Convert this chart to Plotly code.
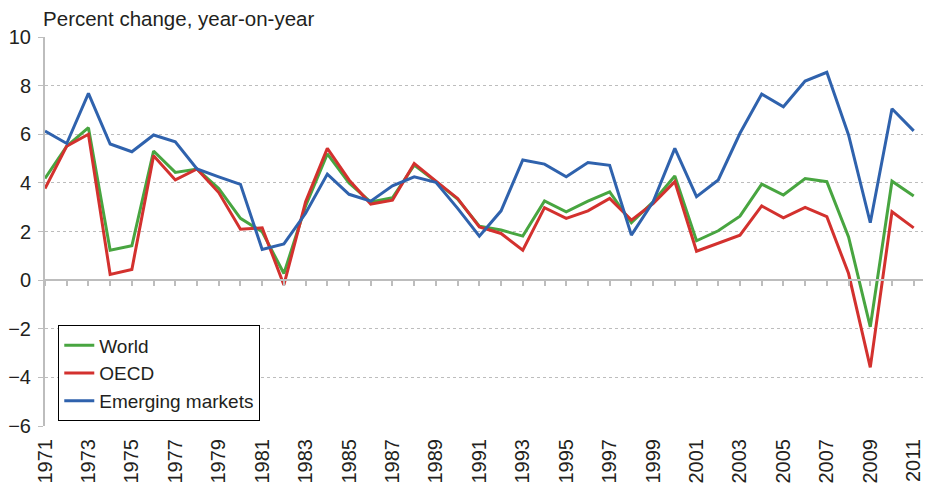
import plotly.graph_objects as go

years = list(range(1971, 2012))
world = [4.18, 5.51, 6.27, 1.23, 1.41, 5.31, 4.43, 4.57, 3.77, 2.54, 1.99, 0.27, 3.05,
         5.19, 4.0, 3.21, 3.39, 4.73, 4.05, 3.33, 2.22, 2.06, 1.81, 3.26, 2.81, 3.25, 3.63,
         2.36, 3.22, 4.28, 1.62, 2.03, 2.63, 3.95, 3.5, 4.18, 4.05, 1.78, -1.92, 4.07, 3.46]
oecd = [3.77, 5.51, 6.0, 0.23, 0.44, 5.12, 4.12, 4.57, 3.6, 2.09, 2.15, -0.2, 3.22,
        5.42, 4.12, 3.13, 3.29, 4.8, 4.07, 3.36, 2.19, 1.92, 1.23, 2.98, 2.54, 2.85, 3.36,
        2.47, 3.15, 4.05, 1.19, 1.51, 1.85, 3.05, 2.56, 2.99, 2.61, 0.27, -3.59, 2.81, 2.15]
emerging = [6.13, 5.62, 7.68, 5.6, 5.28, 5.97, 5.69, 4.57, 4.25, 3.94, 1.26, 1.49, 2.75,
            4.36, 3.53, 3.25, 3.88, 4.25, 4.02, 2.95, 1.81, 2.85, 4.94, 4.77, 4.25, 4.84, 4.72,
            1.85, 3.22, 5.42, 3.43, 4.12, 6.04, 7.65, 7.13, 8.19, 8.55, 5.97, 2.36, 7.05, 6.14]
tick_years = list(range(1971, 2012, 2))
tick_labels = [str(y) for y in tick_years]
y_ticks = [10, 8, 6, 4, 2, 0, -2, -4, -6]

FONT = "Liberation Sans, Arial, Helvetica, sans-serif"
TXT = "#231f20"
GRID = "#bdbdbd"

fig = go.Figure()
for name, vals, col in [("World", world, "#48a540"),
                        ("OECD", oecd, "#d3312e"),
                        ("Emerging markets", emerging, "#2f62ad")]:
    fig.add_trace(go.Scatter(x=years, y=vals, name=name, mode="lines",
                             line=dict(color=col, width=3)))

ymin, ymax = -6, 10
# page body has an 8px margin, so the figure is sized/shifted to compensate
fig.update_layout(
    width=923, height=476,
    margin=dict(l=37, r=1, t=29, b=58, autoexpand=False),
    paper_bgcolor="white", plot_bgcolor="white",
    font=dict(family=FONT, size=20, color=TXT),
    title=dict(text="Percent change, year-on-year", x=0.038, xref="container",
               xanchor="left", y=1.0, yanchor="top", pad=dict(t=4, l=0),
               font=dict(family=FONT, size=20.5, color=TXT)),
    xaxis=dict(range=[1971, 2011.75], tickmode="array", tickvals=tick_years,
               ticktext=tick_labels, tickangle=-90, showgrid=False, showline=False,
               ticks="", zeroline=False, ticklabelstandoff=8, automargin=False,
               tickfont=dict(size=20, color=TXT)),
    xaxis2=dict(range=[1971, 2011.75], overlaying="x", anchor="free",
                position=(0 - ymin) / (ymax - ymin), side="bottom",
                tickmode="linear", tick0=1971, dtick=1, ticks="outside", ticklen=5,
                tickcolor=GRID, tickwidth=1.5, showticklabels=False, showgrid=False,
                showline=True, linecolor=GRID, linewidth=1.5, zeroline=False,
                automargin=False),
    yaxis=dict(range=[ymin, ymax], tickmode="array", tickvals=y_ticks,
               showgrid=True, gridcolor=GRID, griddash="dot", gridwidth=1,
               showline=True, linecolor=GRID, linewidth=2, ticks="outside",
               ticklen=5, tickcolor=GRID, zeroline=False, ticklabelstandoff=3,
               automargin=False, tickfont=dict(size=20, color=TXT)),
    legend=dict(x=0.015, y=0.135, xanchor="left", yanchor="middle",
                bordercolor="#000000", borderwidth=1, bgcolor="white",
                font=dict(size=19, color=TXT), tracegroupgap=0,
                itemwidth=30),
    showlegend=True,
)
# empty trace on the zero-line axis so that it is drawn
fig.add_trace(go.Scatter(x=[1971], y=[None], xaxis="x2", showlegend=False,
                         hoverinfo="skip", mode="lines"))
fig.write_html("out.html")
